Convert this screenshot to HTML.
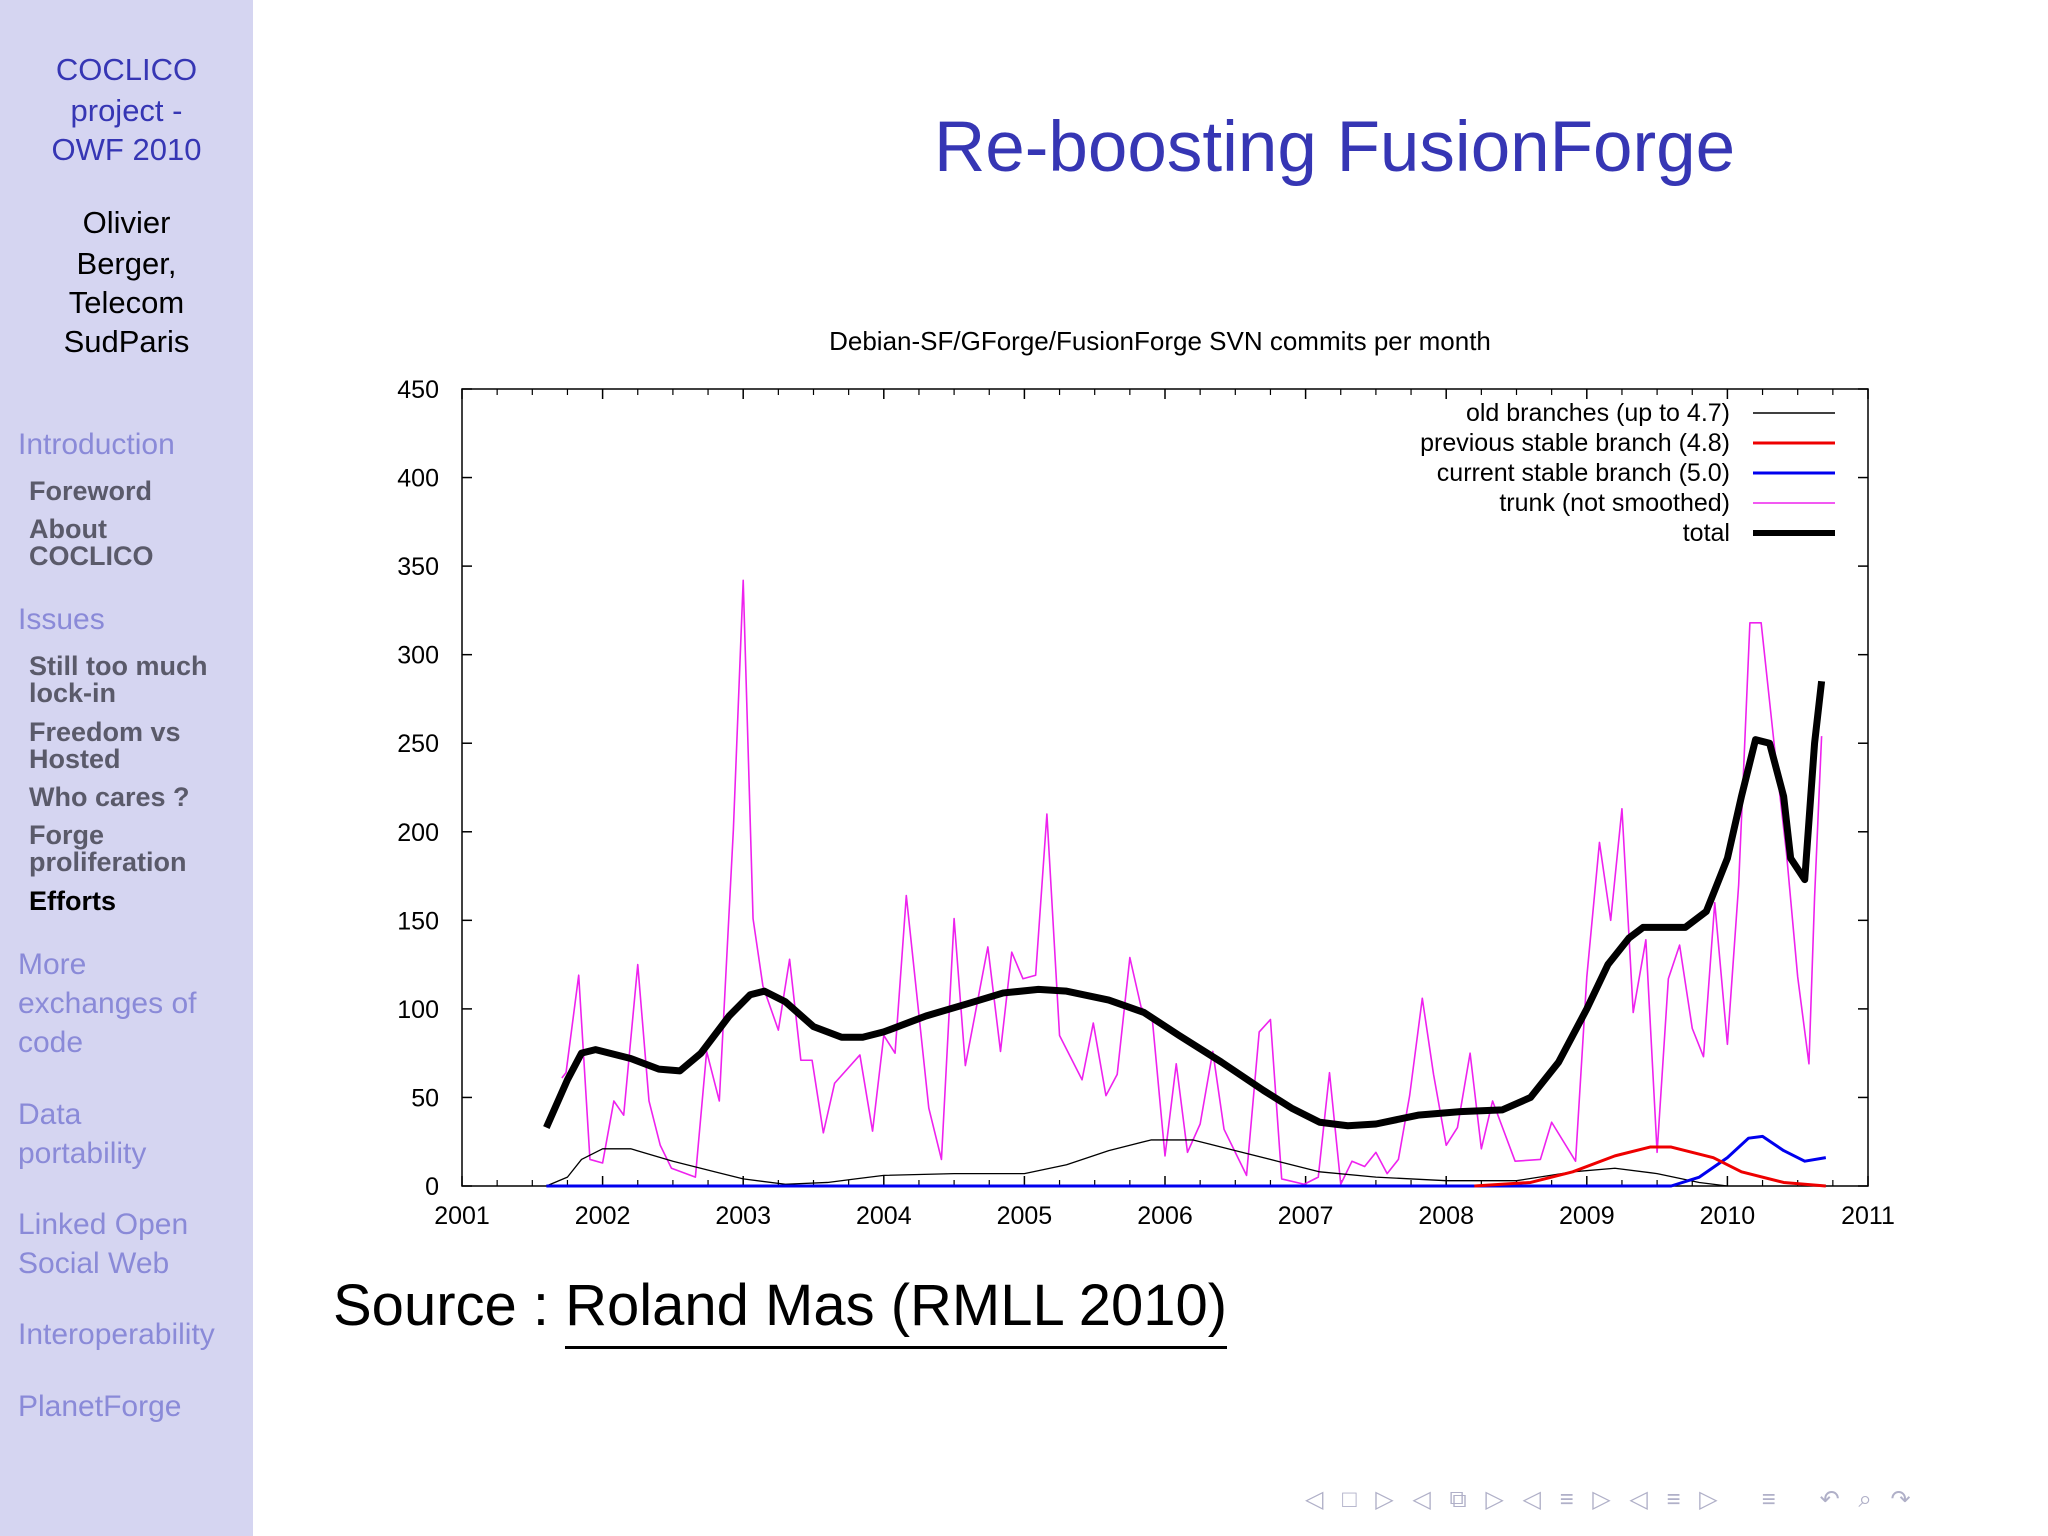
<!DOCTYPE html>
<html><head><meta charset="utf-8"><style>
body{margin:0;width:2048px;height:1536px;position:relative;background:#fff;font-family:"Liberation Sans",sans-serif;overflow:hidden}
#side{position:absolute;left:0;top:0;width:253px;height:1536px;background:#d5d5f1}
.s{position:absolute;white-space:nowrap;line-height:1}
.c{left:0;width:253px;text-align:center}
.h{color:#3636b4;font-size:31px}
.a{color:#000;font-size:31px}
.sec{color:#8a8ad8;font-size:30px;left:18px}
.sub{color:#5a5a6a;font-size:27px;font-weight:bold;left:29px}
</style></head><body>
<div id="side">
<div class="s c h" style="top:54px">COCLICO</div>
<div class="s c h" style="top:95px">project -</div>
<div class="s c h" style="top:134px">OWF 2010</div>
<div class="s c a" style="top:207px">Olivier</div>
<div class="s c a" style="top:248px">Berger,</div>
<div class="s c a" style="top:287px">Telecom</div>
<div class="s c a" style="top:326px">SudParis</div>
<div class="s sec" style="top:430px">Introduction</div>
<div class="s sub" style="top:478px">Foreword</div>
<div class="s sub" style="top:516px">About<br>COCLICO</div>
<div class="s sec" style="top:605px">Issues</div>
<div class="s sub" style="top:653px">Still too much<br>lock-in</div>
<div class="s sub" style="top:719px">Freedom vs<br>Hosted</div>
<div class="s sub" style="top:784px">Who cares ?</div>
<div class="s sub" style="top:822px">Forge<br>proliferation</div>
<div class="s sub" style="top:888px;color:#000">Efforts</div>
<div class="s sec" style="line-height:39px;top:945px">More<br>exchanges of<br>code</div>
<div class="s sec" style="top:1095px;line-height:39px">Data<br>portability</div>
<div class="s sec" style="top:1205px;line-height:39px">Linked Open<br>Social Web</div>
<div class="s sec" style="top:1320px">Interoperability</div>
<div class="s sec" style="top:1392px">PlanetForge</div>
</div>
<div class="s" style="left:934px;top:112px;font-size:71px;color:#3636b4">Re-boosting FusionForge</div>
<div class="s" style="left:333px;top:1277px;font-size:58px;color:#000">Source : <span style="border-bottom:3px solid #000;padding-bottom:8px">Roland Mas (RMLL 2010)</span></div>
<div class="s" style="left:1305px;top:1488px;font-size:24px;color:#b0b0c8;letter-spacing:6px">◁ □ ▷ ◁ ⧉ ▷ ◁ ≡ ▷ ◁ ≡ ▷ &nbsp; ≡ &nbsp; ↶ ⌕ ↷</div>
<svg id="chart" width="2048" height="1536" style="position:absolute;left:0;top:0"></svg>
<script>
const xTicks=[2001,2002,2003,2004,2005,2006,2007,2008,2009,2010,2011];
const yTicks=[0,50,100,150,200,250,300,350,400,450];
const trunkYears=[2001.71,2001.74,2001.83,2001.91,2002.0,2002.08,2002.15,2002.25,2002.33,2002.41,2002.49,2002.66,2002.74,2002.83,2002.93,2003.0,2003.07,2003.14,2003.25,2003.33,2003.41,2003.49,2003.57,2003.65,2003.83,2003.92,2004.0,2004.08,2004.16,2004.32,2004.41,2004.5,2004.58,2004.74,2004.83,2004.91,2004.99,2005.08,2005.16,2005.25,2005.41,2005.49,2005.58,2005.66,2005.75,2005.83,2005.91,2006.0,2006.08,2006.16,2006.25,2006.34,2006.42,2006.58,2006.67,2006.75,2006.83,2006.99,2007.09,2007.17,2007.25,2007.33,2007.42,2007.5,2007.58,2007.66,2007.74,2007.83,2007.91,2008.0,2008.08,2008.17,2008.25,2008.33,2008.49,2008.67,2008.75,2008.92,2009.0,2009.09,2009.17,2009.25,2009.33,2009.42,2009.5,2009.58,2009.66,2009.75,2009.83,2009.91,2010.0,2010.08,2010.16,2010.24,2010.34,2010.42,2010.5,2010.58,2010.62,2010.67];
const trunkValues=[61,64,119,15,13,48,40,125,48,23,10,5,76,48,201,342,151,113,88,128,71,71,30,58,74,31,85,75,164,44,15,151,68,135,76,132,117,119,210,85,60,92,51,63,129,101,94,17,69,19,35,76,32,6,87,94,4,1,5,64,1,14,11,19,7,15,51,106,63,23,33,75,21,48,14,15,36,14,118,194,150,213,98,139,19,117,136,89,73,160,80,170,318,318,244,188,118,69,163,254];
const totalYears=[2001.6,2001.75,2001.85,2001.95,2002.2,2002.4,2002.55,2002.7,2002.9,2003.05,2003.15,2003.3,2003.5,2003.7,2003.85,2004.0,2004.3,2004.6,2004.85,2005.1,2005.3,2005.6,2005.85,2006.1,2006.4,2006.7,2006.9,2007.1,2007.3,2007.5,2007.8,2008.1,2008.4,2008.6,2008.8,2009.0,2009.15,2009.3,2009.4,2009.55,2009.7,2009.85,2010.0,2010.1,2010.2,2010.3,2010.4,2010.45,2010.55,2010.62,2010.67];
const totalValues=[33,60,75,77,72,66,65,75,96,108,110,104,90,84,84,87,96,103,109,111,110,105,98,85,70,54,44,36,34,35,40,42,43,50,70,100,125,140,146,146,146,155,185,220,252,250,220,185,173,250,285];
const oldYears=[2001.6,2001.75,2001.85,2002.0,2002.2,2002.5,2002.8,2003.0,2003.3,2003.6,2003.8,2004.0,2004.5,2005.0,2005.3,2005.6,2005.9,2006.2,2006.5,2006.8,2007.1,2007.5,2008.0,2008.5,2008.9,2009.2,2009.5,2009.8,2010.0];
const oldValues=[0,5,15,21,21,14,8,4,1,2,4,6,7,7,12,20,26,26,20,14,8,5,3,3,8,10,7,2,0];
const prevYears=[2008.2,2008.6,2008.9,2009.2,2009.45,2009.6,2009.9,2010.1,2010.4,2010.7];
const prevValues=[0,2,8,17,22,22,16,8,2,0];
const curYears=[2001.6,2009.6,2009.8,2010.0,2010.15,2010.25,2010.4,2010.55,2010.7];
const curValues=[0,0,5,16,27,28,20,14,16];

const NS='http://www.w3.org/2000/svg';
const svg=document.getElementById('chart');
const L=462,R=1868,T=389,B=1186;
const xs=v=>L+(v-2001)/10*(R-L);
const ys=v=>B-v/450*(B-T);
function mk(tag,at){const e=document.createElementNS(NS,tag);for(const k in at)e.setAttribute(k,at[k]);svg.appendChild(e);return e;}
const frame=mk('rect',{x:L,y:T,width:R-L,height:B-T,fill:'none',stroke:'#000','stroke-width':1.5});


const ttl=mk('text',{x:1160,y:350,'font-size':26,'text-anchor':'middle','font-family':'Liberation Sans'});
ttl.textContent='Debian-SF/GForge/FusionForge SVN commits per month';


yTicks.forEach(v=>{
  mk('line',{x1:L,x2:L+10,y1:ys(v),y2:ys(v),stroke:'#000','stroke-width':1.5});
  mk('line',{x1:R,x2:R-10,y1:ys(v),y2:ys(v),stroke:'#000','stroke-width':1.5});
  const t=mk('text',{x:439,y:ys(v)+9,'font-size':25,'text-anchor':'end','font-family':'Liberation Sans'});
  t.textContent=v;
  
  
});
xTicks.forEach((v,i)=>{
  mk('line',{x1:xs(v),x2:xs(v),y1:B,y2:B-10,stroke:'#000','stroke-width':1.5});
  mk('line',{x1:xs(v),x2:xs(v),y1:T,y2:T+10,stroke:'#000','stroke-width':1.5});
  if(i<xTicks.length-1)for(let m=1;m<4;m++){const xv=v+m/4;
    mk('line',{x1:xs(xv),x2:xs(xv),y1:B,y2:B-6,stroke:'#000','stroke-width':1.2});
    mk('line',{x1:xs(xv),x2:xs(xv),y1:T,y2:T+6,stroke:'#000','stroke-width':1.2});}
  const t=mk('text',{x:xs(v),y:1224,'font-size':25,'text-anchor':'middle','font-family':'Liberation Sans'});
  t.textContent=v;
  
  
});
function line(xa,ya,col,w,name){
  const p=mk('polyline',{points:xa.map((x,i)=>xs(x)+','+ys(ya[i])).join(' '),fill:'none',stroke:col,'stroke-width':w,'stroke-linejoin':'round'});
  
  
}
line(trunkYears,trunkValues,'#ee22ee',1.6,'series-trunk');
line(oldYears,oldValues,'#000',1.3,'series-old-branches');
line(curYears,curValues,'#0000ee',3,'series-current-stable');
line(prevYears,prevValues,'#ee0000',3,'series-previous-stable');
line(totalYears,totalValues,'#000',7,'series-total');
const leg=[['old branches (up to 4.7)','#000',1.5],['previous stable branch (4.8)','#ee0000',3],['current stable branch (5.0)','#0000ee',3],['trunk (not smoothed)','#ee22ee',1.6],['total','#000',6]];
leg.forEach((l,i)=>{
  const y=413+i*30;
  const t=mk('text',{x:1730,y:y+8,'font-size':25,'text-anchor':'end','font-family':'Liberation Sans'});
  t.textContent=l[0];
  
  
  mk('line',{x1:1753,x2:1835,y1:y,y2:y,stroke:l[1],'stroke-width':l[2]});
});
</script>
</body></html>
